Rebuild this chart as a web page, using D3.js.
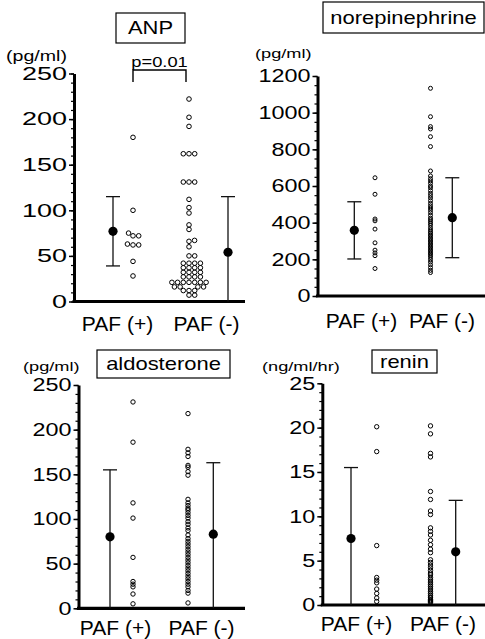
<!DOCTYPE html>
<html>
<head>
<meta charset="utf-8">
<script src="https://cdn.jsdelivr.net/npm/d3@7/dist/d3.min.js"></script>
<style>
  body { margin: 0; background: #fff; }
  svg { display: block; font-family: "Liberation Sans", Arial, Helvetica, sans-serif; }
</style>
</head>
<body>
<svg id="fig" width="485" height="639"></svg>
<script>
var groups = ["PAF (+)", "PAF (-)"];

// ANP (pg/ml)
var anpPos = [180, 100, 75, 72, 72, 63, 62, 62, 44, 28];
var anpNeg = [222, 202, 192, 162, 162, 162, 131, 131, 131, 112, 103, 97, 84, 79, 67, 66, 60,
              50, 50, 42, 42, 42, 42, 37, 37, 37, 37, 32, 32, 32, 32, 27, 27, 27, 27,
              21, 21, 21, 21, 21, 21, 21, 16, 16, 16, 16, 12, 12, 12, 7, 7];
var anpMean = [77, 54];
var anpSd = [38, 61];
var anpTicks = [0, 50, 100, 150, 200, 250];

// norepinephrine (pg/ml)
var nePos = [645, 555, 420, 410, 365, 290, 250, 235, 220, 150];
var neNeg = [1133, 978, 924, 911, 869, 815, 682, 655, 640, 628, 615, 600, 590, 575, 560, 548,
             535, 520, 505, 492, 480, 468, 455, 440, 425, 415, 405, 395, 385, 372, 360, 350,
             342, 333, 325, 316, 308, 300, 292, 284, 276, 268, 260, 252, 244, 236, 228, 220,
             210, 198, 185, 170, 155, 140, 128];
var neMean = [358, 427];
var neSd = [156, 218];
var neTicks = [0, 200, 400, 600, 800, 1000, 1200];

// aldosterone (pg/ml)
var aldPos = [231, 186, 118, 101, 57, 30, 27, 24, 16, 5];
var aldNeg = [218, 178, 174, 170, 160, 158, 153, 149, 122, 118, 115, 112, 110, 107, 104, 101,
              97, 94, 90, 87, 82, 78, 75, 72, 69, 66, 63, 60, 57, 54, 51, 48, 45, 42, 39, 36,
              33, 30, 27, 24, 20, 17, 6];
var aldMean = [80, 83];
var aldSd = [75, 80];
var aldTicks = [0, 50, 100, 150, 200, 250];

// renin (ng/ml/hr)
var renPos = [20.1, 17.3, 6.7, 3.1, 2.8, 2.5, 1.8, 1.3, 0.8, 0.4];
var renNeg = [20.2, 19.3, 17.1, 16.7, 12.8, 11.9, 10.6, 10.2, 8.7, 8.3, 7.9, 7.3, 6.8, 6.3, 5.9,
              5.1, 4.8, 4.5, 4.2, 3.9, 3.6, 3.4, 3.1, 2.9, 2.7, 2.5, 2.3, 2.1, 1.9, 1.7, 1.5,
              1.3, 1.1, 0.9, 0.8, 0.6, 0.5, 0.4, 0.3];
var renMean = [7.5, 6.0];
var renSd = [8.0, 5.8];
var renTicks = [0, 5, 10, 15, 20, 25];

var panels = [
  { title: "ANP", unit: "(pg/ml)", pts: [anpPos, anpNeg], mean: anpMean, sd: anpSd,
    ticks: anpTicks, minor: 10, dodge: true, r: 2.3, tickScale: 1.5,
    ax: 74, axEnd: 245, yTop: 73.5, yBot: 301.5, labelX: [117, 206], labelY: 331,
    meanX: [113, 228], ptsX: [133, 189], box: [116, 13, 69, 30],
    unitX: 6, unitY: 61, unitSize: 14, p: { text: "p=0.01", x0: 133, x1: 186, y: 70, drop: 12 } },
  { title: "norepinephrine", unit: "(pg/ml)", pts: [nePos, neNeg], mean: neMean, sd: neSd,
    ticks: neTicks, minor: 50, dodge: false, r: 2.0, tickScale: 1.3,
    ax: 317.5, axEnd: 485, yTop: 76, yBot: 296, labelX: [361, 441.5], labelY: 328,
    meanX: [354.3, 452.3], ptsX: [375, 430.5], box: [323, 2, 161, 31],
    unitX: 255, unitY: 58, unitSize: 13 },
  { title: "aldosterone", unit: "(pg/ml)", pts: [aldPos, aldNeg], mean: aldMean, sd: aldSd,
    ticks: aldTicks, minor: 10, dodge: false, r: 2.2, tickScale: 1.3,
    ax: 78.5, axEnd: 245, yTop: 385, yBot: 608.3, labelX: [115, 201], labelY: 635,
    meanX: [110, 213.3], ptsX: [133, 188], box: [97, 350, 133, 28],
    unitX: 23, unitY: 371, unitSize: 13 },
  { title: "renin", unit: "(ng/ml/hr)", pts: [renPos, renNeg], mean: renMean, sd: renSd,
    ticks: renTicks, minor: 1, dodge: false, r: 2.2, tickScale: 1.3,
    ax: 322.3, axEnd: 485, yTop: 383.3, yBot: 605, labelX: [356, 442.5], labelY: 631,
    meanX: [351, 455.7], ptsX: [376.7, 430.5], box: [372, 350, 65, 23],
    unitX: 262, unitY: 371, unitSize: 13 }
];

var svg = d3.select("#fig");

// beeswarm: push each circle sideways until it no longer overlaps.
// vertical distances count a bit more (k) so stacked rows may touch, like the original
function dodge(vals, y, diam, k) {
  var placed = [];
  vals.slice().sort(function (a, b) { return a - b; }).forEach(function (v) {
    var cy = y(v);
    var near = placed.filter(function (p) { return Math.abs(p.cy - cy) * k < diam; });
    var cands = [0];
    near.forEach(function (p) {
      var dy = (p.cy - cy) * k;
      var h = Math.sqrt(diam * diam - dy * dy);
      cands.push(p.dx + h, p.dx - h);
    });
    cands.sort(function (a, b) { return Math.abs(a) - Math.abs(b) || b - a; });
    var dx = cands.find(function (c) {
      return near.every(function (p) {
        var ddx = p.dx - c, ddy = (p.cy - cy) * k;
        return ddx * ddx + ddy * ddy >= diam * diam - 0.01;
      });
    });
    placed.push({ v: v, cy: cy, dx: dx });
  });
  return placed;
}

panels.forEach(function (cfg) {
  var max = cfg.ticks[cfg.ticks.length - 1];
  var y = d3.scaleLinear().domain([0, max]).range([cfg.yBot, cfg.yTop]);
  var x = d3.scalePoint().domain(groups).range(cfg.labelX);

  var g = svg.append("g");

  // minor ticks
  g.append("g")
    .attr("transform", "translate(" + cfg.ax + ",0)")
    .call(d3.axisLeft(y).tickValues(d3.range(0, max + cfg.minor / 2, cfg.minor))
      .tickSize(3).tickSizeOuter(0).tickFormat(""))
    .call(function (a) { a.select(".domain").remove(); })
    .selectAll(".tick line").attr("stroke-width", 1.2);

  // major ticks + labels
  var yAxis = g.append("g")
    .attr("transform", "translate(" + cfg.ax + ",0)")
    .call(d3.axisLeft(y).tickValues(cfg.ticks).tickSize(5).tickSizeOuter(0)
      .tickFormat(d3.format("d")))
    .attr("font-family", "'Liberation Sans', Arial, sans-serif")
    .attr("font-size", 18);
  yAxis.select(".domain").attr("stroke-width", 3);
  yAxis.selectAll(".tick line").attr("stroke-width", 1.5);
  yAxis.selectAll(".tick text")
    .attr("x", 0)
    .attr("transform", "translate(-7,0) scale(" + cfg.tickScale + ",1)")
    .attr("fill", "#000");

  // x axis line
  g.append("line")
    .attr("x1", cfg.ax - 1.5).attr("x2", cfg.axEnd)
    .attr("y1", cfg.yBot).attr("y2", cfg.yBot)
    .attr("stroke", "#000").attr("stroke-width", 3.2);

  // category labels
  g.append("g")
    .attr("transform", "translate(0," + (cfg.labelY - 15) + ")")
    .call(d3.axisBottom(x).tickSize(0).tickPadding(0))
    .attr("font-family", "'Liberation Sans', Arial, sans-serif")
    .attr("font-size", 21)
    .call(function (a) { a.select(".domain").remove(); })
    .selectAll("text").attr("fill", "#000").attr("dy", "0.71em");

  // unit label
  g.append("text")
    .attr("transform", "translate(" + cfg.unitX + "," + cfg.unitY + ") scale(1.4,1)")
    .attr("font-size", cfg.unitSize)
    .text(cfg.unit);

  // title box
  g.append("rect")
    .attr("x", cfg.box[0]).attr("y", cfg.box[1])
    .attr("width", cfg.box[2]).attr("height", cfg.box[3])
    .attr("fill", "none").attr("stroke", "#000").attr("stroke-width", 1.2);
  g.append("text")
    .attr("transform", "translate(" + (cfg.box[0] + cfg.box[2] / 2) + "," +
      (cfg.box[1] + cfg.box[3] / 2) + ") scale(1.22,1)")
    .attr("text-anchor", "middle")
    .attr("dy", "0.36em")
    .attr("font-size", 18)
    .text(cfg.title);

  // individual values
  groups.forEach(function (grp, i) {
    var cx = cfg.ptsX[i];
    var dots = cfg.dodge ? dodge(cfg.pts[i], y, cfg.r * 2 + 1.1, 1.3)
      : cfg.pts[i].map(function (v) { return { v: v, cy: y(v), dx: 0 }; });
    g.append("g").selectAll("circle")
      .data(dots)
      .enter().append("circle")
      .attr("cx", function (d) { return cx + d.dx; })
      .attr("cy", function (d) { return y(d.v); })
      .attr("r", cfg.r)
      .attr("fill", "none")
      .attr("stroke", "#000")
      .attr("stroke-width", 1);
  });

  // mean +/- SD; a lower end close to zero is just run down to the axis
  groups.forEach(function (grp, i) {
    var m = cfg.mean[i], s = cfg.sd[i];
    var mx = cfg.meanX[i];
    var lo = m - s, hi = m + s;
    var capLo = lo > max * 0.1;
    if (!capLo) lo = 0;
    var eb = g.append("g").attr("stroke", "#111").attr("stroke-width", 1.3);
    eb.append("line").attr("x1", mx).attr("x2", mx).attr("y1", y(lo)).attr("y2", y(hi));
    eb.append("line").attr("x1", mx - 7).attr("x2", mx + 7).attr("y1", y(hi)).attr("y2", y(hi));
    if (capLo) {
      eb.append("line").attr("x1", mx - 7).attr("x2", mx + 7).attr("y1", y(lo)).attr("y2", y(lo));
    }
    g.append("circle").attr("cx", mx).attr("cy", y(m)).attr("r", 4.6).attr("fill", "#000");
  });

  // significance bracket
  if (cfg.p) {
    var p = cfg.p;
    g.append("path")
      .attr("d", "M" + p.x0 + "," + (p.y + p.drop) + "V" + p.y + "H" + p.x1 + "V" + (p.y + p.drop))
      .attr("fill", "none").attr("stroke", "#000").attr("stroke-width", 1.4);
    g.append("text")
      .attr("transform", "translate(" + ((p.x0 + p.x1) / 2) + "," + (p.y - 3) + ") scale(1.22,1)")
      .attr("text-anchor", "middle")
      .attr("font-size", 15)
      .text(p.text);
  }
});
</script>
</body>
</html>
